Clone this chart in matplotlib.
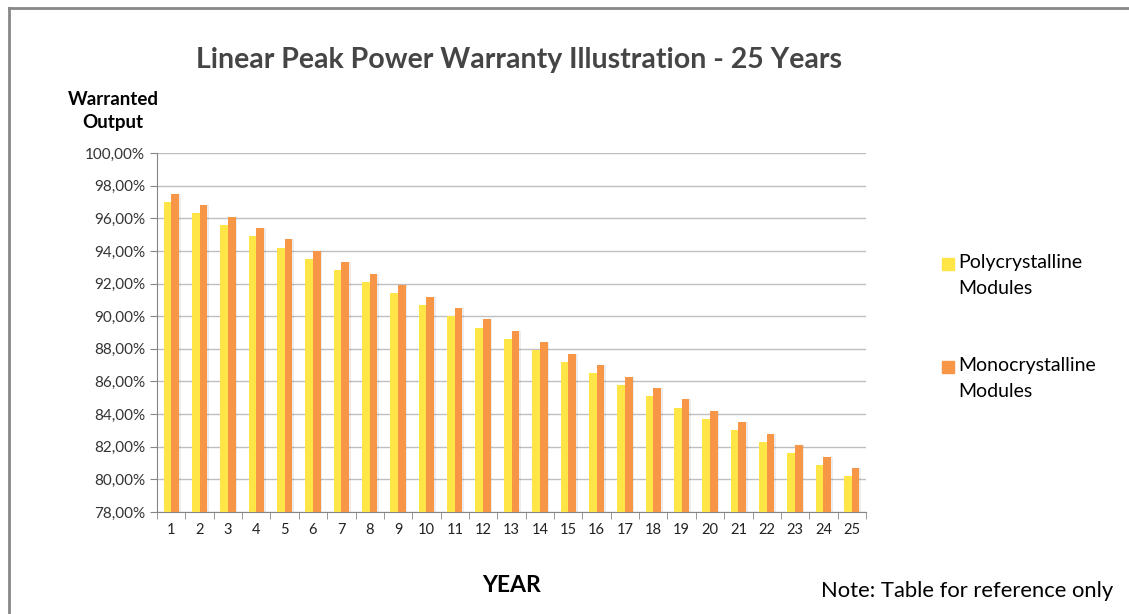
import matplotlib.pyplot as plt
import numpy as np
from matplotlib.ticker import FuncFormatter
from matplotlib.lines import Line2D

plt.rcParams['font.family'] = ['Lato', 'DejaVu Sans']

# Warranted output per year (%)
years = list(range(1, 26))
poly = [97.0, 96.3, 95.6, 94.9, 94.2, 93.5, 92.8, 92.1, 91.4, 90.7,
        90.0, 89.3, 88.6, 87.9, 87.2, 86.5, 85.8, 85.1, 84.4, 83.7,
        83.0, 82.3, 81.6, 80.9, 80.2]
mono = [97.5, 96.8, 96.1, 95.4, 94.7, 94.0, 93.3, 92.6, 91.9, 91.2,
        90.5, 89.8, 89.1, 88.4, 87.7, 87.0, 86.3, 85.6, 84.9, 84.2,
        83.5, 82.8, 82.1, 81.4, 80.7]
series_names = ['Polycrystalline\nModules', 'Monocrystalline\nModules']
yellow = '#FFE545'
orange = '#F79646'

fig = plt.figure(figsize=(11.29, 6.14), dpi=100)
ax = fig.add_axes([157 / 1129, 1 - 512 / 614, 709 / 1129, 359 / 614])

x = np.array(years)
w = 0.27
base = 78
# soft shadow behind bars
for off, vals in ((-w / 2, poly), (w / 2, mono)):
    ax.bar(x + off + 0.06, np.array(vals) - base + 0.12, w, bottom=base - 0.12,
           color='#000000', alpha=0.07, zorder=2, linewidth=0)
ax.bar(x - w / 2, np.array(poly) - base, w, bottom=base, color=yellow, zorder=3, linewidth=0)
ax.bar(x + w / 2, np.array(mono) - base, w, bottom=base, color=orange, zorder=3, linewidth=0)

ax.set_xlim(0.5, 25.5)
ax.set_ylim(78, 100)
ax.set_yticks(np.arange(78, 100.1, 2))
ax.yaxis.set_major_formatter(FuncFormatter(lambda v, p: f'{v:.2f}%'.replace('.', ',')))
ax.grid(axis='y', color='#BFBFBF', linewidth=1, zorder=0)
ax.set_xticks(years)
ax.set_xticks(np.arange(0.5, 25.6, 1), minor=True)
ax.tick_params(axis='x', which='major', length=0, pad=8, labelsize=10.5, labelcolor='#222222')
ax.tick_params(axis='x', which='minor', length=5, color='#868686', direction='out')
ax.tick_params(axis='y', length=5, color='#868686', labelsize=11, labelcolor='#333333')
for s in ('top', 'right'):
    ax.spines[s].set_visible(False)
ax.spines['left'].set_color('#868686')
ax.spines['bottom'].set_color('#868686')

fig.text(519 / 1129, 1 - 60 / 614, 'Linear Peak Power Warranty Illustration - 25 Years',
         ha='center', va='center', fontsize=20.5, fontweight='bold', color='#454545')
fig.text(113 / 1129, 1 - 111 / 614, 'Warranted\nOutput', ha='center', va='center',
         fontsize=13.5, fontweight='bold', linespacing=1.45)
fig.text(512 / 1129, 1 - 585 / 614, 'YEAR', ha='center', va='center',
         fontsize=16.5, fontweight='bold')
fig.text(967 / 1129, 1 - 591 / 614, 'Note: Table for reference only', ha='center', va='center',
         fontsize=15.8)

# legend
for yy, col, name in ((264, yellow, series_names[0]), (367, orange, series_names[1])):
    fig.patches.append(plt.Rectangle((942 / 1129, 1 - (yy + 6) / 614), 12 / 1129, 12 / 614,
                                     transform=fig.transFigure, color=col))
    fig.text(958 / 1129, 1 - (yy - 10) / 614, name, ha='left', va='top', fontsize=14,
             linespacing=1.65)

# outer border (top and left)
fig.add_artist(Line2D([9 / 1129, 1], [1 - 8 / 614, 1 - 8 / 614], color='#888888', lw=2,
                      transform=fig.transFigure))
fig.add_artist(Line2D([9 / 1129, 9 / 1129], [0, 1 - 8 / 614], color='#888888', lw=2,
                      transform=fig.transFigure))

fig.savefig('out.png', dpi=100)
